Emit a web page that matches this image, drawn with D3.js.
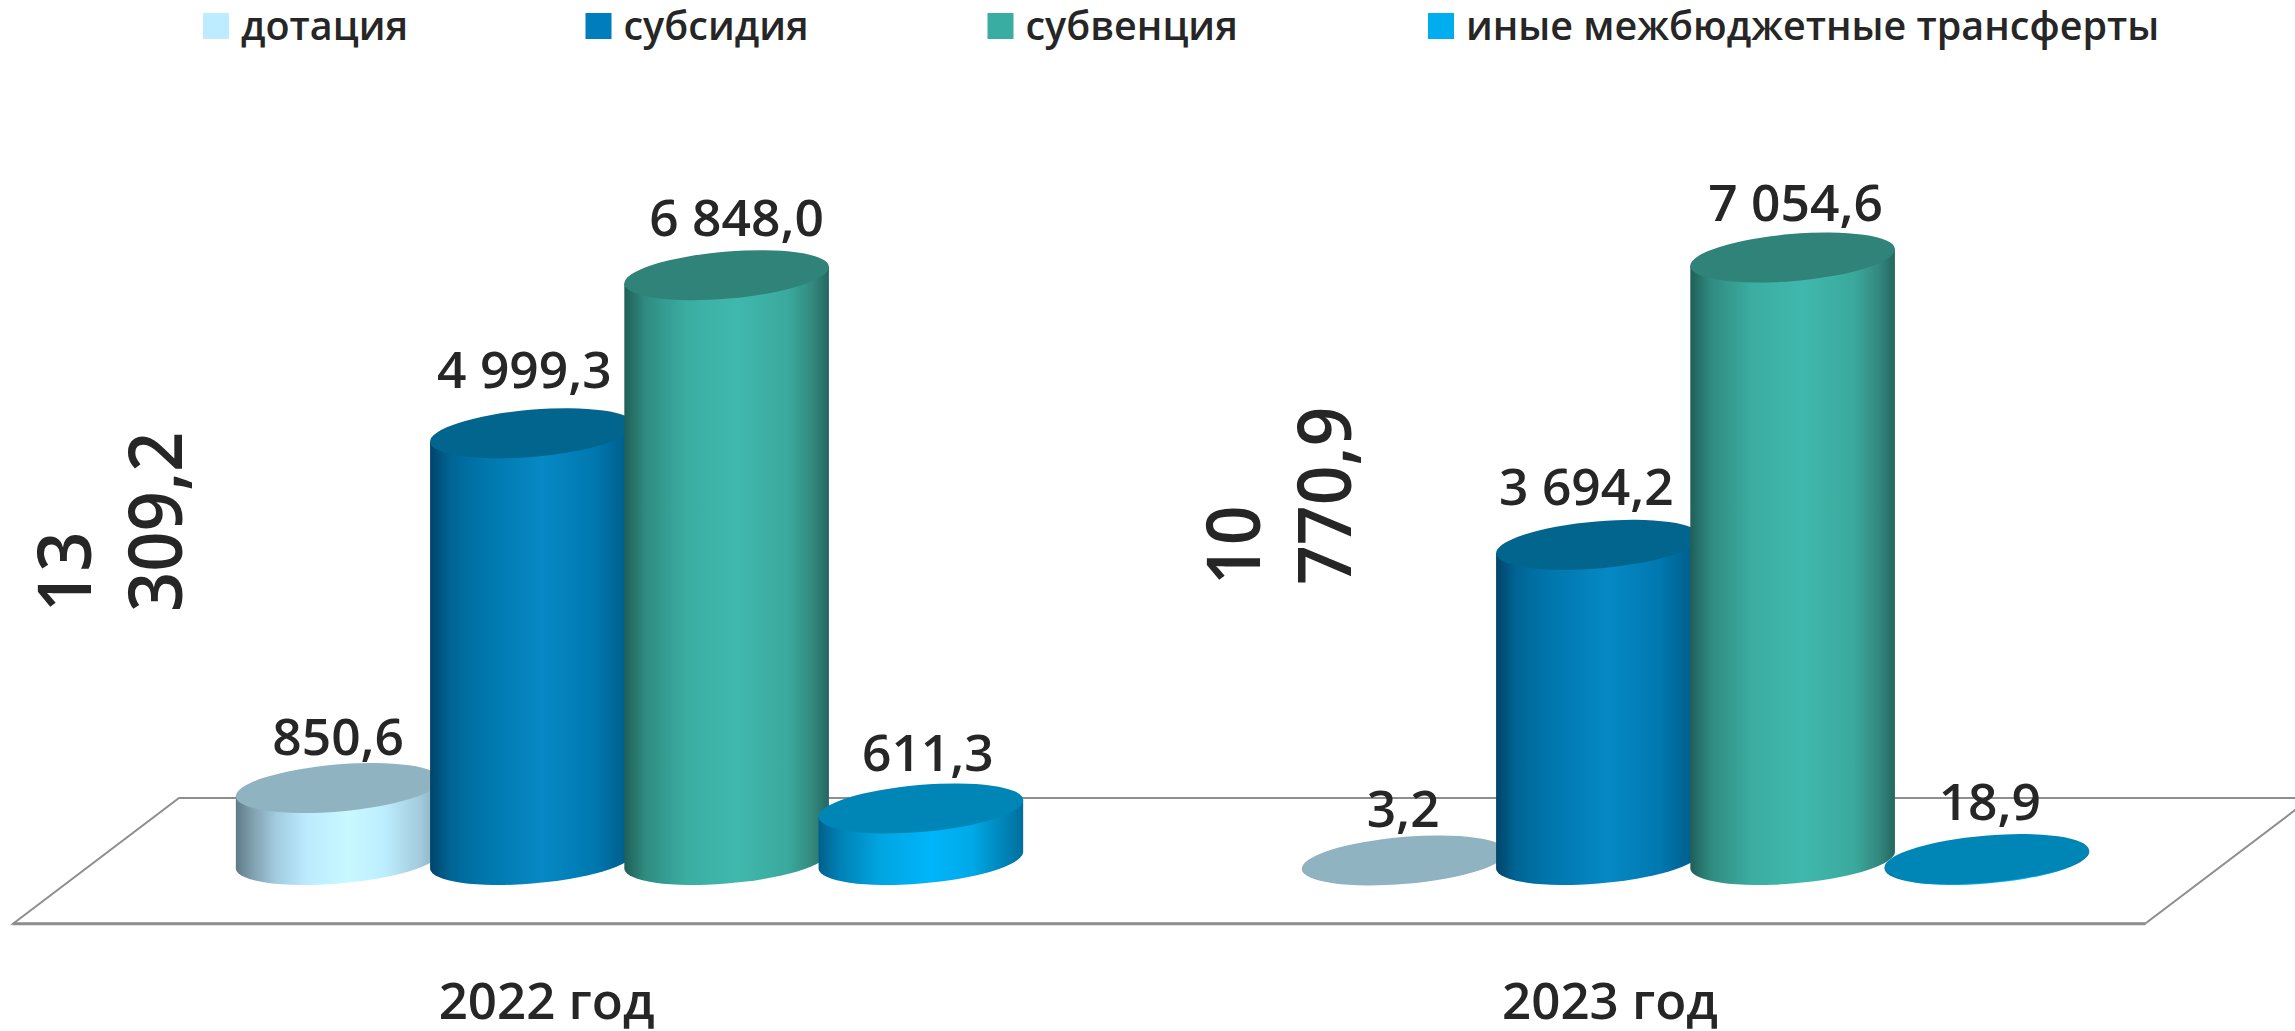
<!DOCTYPE html>
<html lang="ru">
<head>
<meta charset="utf-8">
<title>Межбюджетные трансферты</title>
<script src="https://cdn.jsdelivr.net/npm/d3@7"></script>
<style>
  html, body { margin: 0; padding: 0; background: #fff; overflow: hidden; }
  svg { display: block; }
  text { font-family: "Open Sans", "Noto Sans", sans-serif; fill: #262626; font-weight: 600; }
</style>
</head>
<body>
<div id="chart"></div>
<script>
// ----- Data -----
const years  = ["2022 год", "2023 год"];
const series = ["дотация", "субсидия", "субвенция", "иные межбюджетные трансферты"];

const values2022 = [850.6, 4999.3, 6848.0, 611.3];
const values2023 = [3.2, 3694.2, 7054.6, 18.9];
const totals     = [13309.2, 10770.9];

// ----- Colours -----
const legendColors = ["#bdebff", "#007dbb", "#3aada3", "#00aeef"];
const topColors    = ["#90b3c2", "#02658d", "#2f8379", "#0085b7"];
const bodyStops = [
  [[0, "#5f7a86"], [0.08, "#7f9fae"], [0.2, "#a3cde1"], [0.35, "#bcebff"], [0.55, "#c8f9ff"], [0.72, "#bdeeff"], [0.9, "#a3cbdd"], [1, "#86a8b8"]],
  [[0, "#00456a"], [0.1, "#006595"], [0.25, "#0075ab"], [0.55, "#0689c5"], [0.8, "#0078b0"], [0.95, "#00608f"], [1, "#005078"]],
  [[0, "#1f5f58"], [0.1, "#2f8b80"], [0.3, "#3bada1"], [0.55, "#40b8ad"], [0.8, "#3ba99d"], [0.92, "#33897f"], [1, "#24675f"]],
  [[0, "#005f8a"], [0.1, "#0080b5"], [0.3, "#00a5e0"], [0.55, "#00b5fb"], [0.75, "#00a9e8"], [0.9, "#0085b8"], [1, "#006f9c"]]
];

// ----- Layout -----
const width  = 2295;
const height = 1031;

const floor = { x0: 13, x1: 2145, skew: 166, top: 798, bottom: 923.7 };
const baseY = 860.7;        // centre of the cylinder bottoms

// ellipse of the cylinder caps (tilted)
const cap = { a: 102.7, b: 23.5, angle: -4.9, halfW: 102.3, halfH: 25, tilt: 8.3 };

// hand placed labels, same order as the series
const labelOffsets = [
  [[0, -8], [-8, -20], [10, -14], [7, -12]],
  [[-1, -8], [-12, -15], [3, -12], [3, -14]]
];
const totalPos = [
  { x: 90.7, y: 612, gap: 91, stretch: 0.94 },
  { x: 1260, y: 585, gap: 91, stretch: 0.93 }
];
const legendPos = [203, 585.5, 987.5, 1428];
const yearLabelX = [546.6, 1610];

// ----- Scales -----
const x0 = d3.scaleBand().domain(years).range([96.5, 2228.5]);
const x1 = d3.scaleBand().domain(series).range([0, x0.bandwidth()]).paddingInner(0).paddingOuter(0.744);
const y  = d3.scaleLinear().domain([0, 8000]).range([baseY, baseY - 684]);

const ruFormat = d3.formatLocale({ decimal: ",", thousands: " ", grouping: [3], currency: ["", ""] }).format(",.1f");

// ----- Svg -----
const svg = d3.select("#chart").append("svg")
  .attr("width", width)
  .attr("height", height)
  .attr("viewBox", `0 0 ${width} ${height}`);

const defs = svg.append("defs");
series.forEach((s, i) => {
  const grad = defs.append("linearGradient")
    .attr("id", "body" + i)
    .attr("x1", 0).attr("x2", 1).attr("y1", 0).attr("y2", 0);
  bodyStops[i].forEach(st => {
    grad.append("stop").attr("offset", st[0]).attr("stop-color", st[1]);
  });
});

// floor
const floorLine = "#8e8e8e";
svg.append("path")
  .attr("d", `M${floor.x0},${floor.bottom} L${floor.x0 + floor.skew},${floor.top} L${floor.x1 + floor.skew},${floor.top} L${floor.x1},${floor.bottom} Z`)
  .attr("fill", "#fff")
  .attr("stroke", floorLine)
  .attr("stroke-width", 2);
svg.append("line")
  .attr("x1", floor.x0).attr("x2", floor.x1)
  .attr("y1", floor.bottom).attr("y2", floor.bottom)
  .attr("stroke", floorLine)
  .attr("stroke-width", 3);

// cylinders
function bodyPath(cx, topY) {
  const l = cx - cap.halfW, r = cx + cap.halfW;
  return `M${l},${topY + cap.tilt} L${l},${baseY + cap.tilt}` +
    ` A${cap.a},${cap.b} ${cap.angle} 0 0 ${r},${baseY - cap.tilt}` +
    ` L${r},${topY - cap.tilt} Z`;
}

[values2022, values2023].forEach((vals, yi) => {
  const g = svg.append("g").attr("class", "year-group");

  series.forEach((s, i) => {
    const cx = x0(years[yi]) + x1(s) + x1.bandwidth() / 2;
    const cy = y(vals[i]);

    g.append("path")
      .attr("d", bodyPath(cx, cy))
      .attr("fill", `url(#body${i})`);

    g.append("ellipse")
      .attr("cx", cx).attr("cy", cy)
      .attr("rx", cap.a).attr("ry", cap.b)
      .attr("transform", `rotate(${cap.angle} ${cx} ${cy})`)
      .attr("fill", topColors[i]);
  });

  // value labels go after all cylinders of the group
  series.forEach((s, i) => {
    const cx = x0(years[yi]) + x1(s) + x1.bandwidth() / 2;
    const off = labelOffsets[yi][i];
    g.append("text")
      .attr("x", cx + off[0])
      .attr("y", y(vals[i]) - cap.halfH + off[1])
      .attr("text-anchor", "middle")
      .attr("font-size", 51.5)
      .text(ruFormat(vals[i]));
  });

  // year label
  g.append("text")
    .attr("x", yearLabelX[yi])
    .attr("y", 1019)
    .attr("text-anchor", "middle")
    .attr("font-size", 51)
    .text(years[yi]);

  // rotated total, wrapped on two lines
  const p = totalPos[yi];
  ruFormat(totals[yi]).split(" ").forEach((part, k) => {
    g.append("text")
      .attr("transform", `translate(${p.x + k * p.gap},${p.y}) rotate(-90) scale(${p.stretch},1)`)
      .attr("font-size", 75)
      .text(part);
  });
});

// legend
const legend = svg.append("g").attr("class", "legend");
series.forEach((s, i) => {
  legend.append("rect")
    .attr("x", legendPos[i]).attr("y", 13)
    .attr("width", 26).attr("height", 26)
    .attr("fill", legendColors[i]);
  legend.append("text")
    .attr("x", legendPos[i] + 38)
    .attr("y", 40)
    .attr("font-size", 39.5)
    .text(s);
});
</script>
</body>
</html>
